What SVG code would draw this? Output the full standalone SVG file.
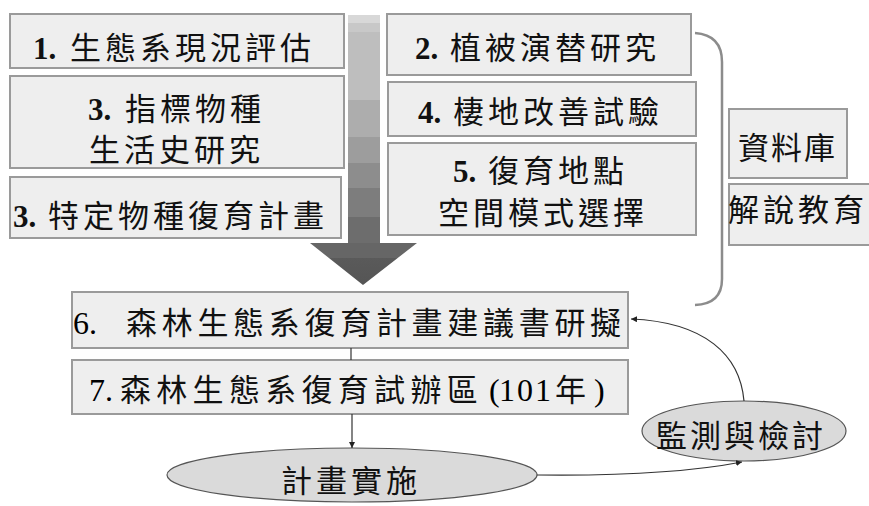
<svg xmlns="http://www.w3.org/2000/svg" width="869" height="506" viewBox="0 0 869 506">
<style>
  .box { fill: #eeeeee; stroke: #9a9a9a; stroke-width: 2; }
  .ell { fill: #dadada; stroke: #555555; stroke-width: 1.2; }
  .t { font-family: "Noto Sans CJK TC", "Noto Sans CJK SC", sans-serif; font-size: 31px; fill: #111; letter-spacing: 4px; }
  .n { font-family: "Liberation Serif", "DejaVu Serif", serif; font-weight: bold; font-size: 31px; letter-spacing: 0; }
  .nr { font-family: "Liberation Serif", "DejaVu Serif", serif; font-weight: normal; font-size: 32px; letter-spacing: 0; }
  .con { fill: none; stroke: #333; stroke-width: 1.2; }
</style>
<defs>
  <linearGradient id="arrowGrad" gradientUnits="userSpaceOnUse" x1="0" y1="15" x2="0" y2="285">
    <stop offset="0" stop-color="#d8d8d8"/>
    <stop offset="0.03" stop-color="#d8d8d8"/>
    <stop offset="0.03" stop-color="#c8c8c8"/>
    <stop offset="0.063" stop-color="#c8c8c8"/>
    <stop offset="0.063" stop-color="#bebebe"/>
    <stop offset="0.315" stop-color="#bebebe"/>
    <stop offset="0.315" stop-color="#adadad"/>
    <stop offset="0.452" stop-color="#adadad"/>
    <stop offset="0.452" stop-color="#9d9d9d"/>
    <stop offset="0.548" stop-color="#9d9d9d"/>
    <stop offset="0.548" stop-color="#8d8d8d"/>
    <stop offset="0.641" stop-color="#8d8d8d"/>
    <stop offset="0.641" stop-color="#7d7d7d"/>
    <stop offset="0.748" stop-color="#7d7d7d"/>
    <stop offset="0.748" stop-color="#6d6d6d"/>
    <stop offset="0.844" stop-color="#6d6d6d"/>
    <stop offset="0.844" stop-color="#666666"/>
    <stop offset="0.9" stop-color="#666666"/>
    <stop offset="0.9" stop-color="#5a5a5a"/>
    <stop offset="1" stop-color="#555555"/>
  </linearGradient>
  <marker id="ah" viewBox="0 0 10 10" refX="10" refY="5" markerWidth="6" markerHeight="6" markerUnits="userSpaceOnUse" orient="auto">
    <path d="M0,0 L10,5 L0,10 z" fill="#222"/>
  </marker>
</defs>

<g id="big-arrow">
  <path d="M348,15 H380 V243 H417 L363,285 L310,243 H348 Z" fill="url(#arrowGrad)"/>
</g>

<g id="node1">
  <rect class="box" x="10" y="14" width="334" height="54"/>
  <text class="t" y="59"><tspan class="n" x="33">1.</tspan><tspan x="70">生態系現況評估</tspan></text>
</g>
<g id="node3a">
  <rect class="box" x="10" y="76" width="334" height="92"/>
  <text class="t" y="119.5"><tspan class="n" x="88">3.</tspan><tspan x="125">指標物種</tspan><tspan x="89" y="161">生活史研究</tspan></text>
</g>
<g id="node3b">
  <rect class="box" x="10" y="177" width="331" height="61"/>
  <text class="t" y="227"><tspan class="n" x="13">3.</tspan><tspan x="48">特定物種復育計畫</tspan></text>
</g>
<g id="node2">
  <rect class="box" x="387" y="14" width="304" height="61"/>
  <text class="t" y="59"><tspan class="n" x="415">2.</tspan><tspan x="450">植被演替研究</tspan></text>
</g>
<g id="node4">
  <rect class="box" x="388" y="82" width="308" height="54"/>
  <text class="t" y="123"><tspan class="n" x="418">4.</tspan><tspan x="453">棲地改善試驗</tspan></text>
</g>
<g id="node5">
  <rect class="box" x="388" y="143" width="308" height="92"/>
  <text class="t" y="182"><tspan class="n" x="453">5.</tspan><tspan x="488">復育地點</tspan><tspan x="438" y="224">空間模式選擇</tspan></text>
</g>
<g id="bracket">
  <path d="M695,33 Q722,35 722,62 L722,279 Q722,304 695,305" fill="none" stroke="#8c8c8c" stroke-width="2.5"/>
</g>
<g id="node-db">
  <rect class="box" x="729" y="109" width="118" height="69"/>
  <text class="t" x="738" y="159" style="letter-spacing:2px">資料庫</text>
</g>
<g id="node-edu">
  <rect class="box" x="729" y="184" width="150" height="61"/>
  <text class="t" x="728" y="221" style="letter-spacing:4px">解說教育</text>
</g>
<g id="node6">
  <rect class="box" x="72" y="292" width="556" height="56"/>
  <text class="nr" x="73" y="334">6.</text>
  <text class="t" x="126" y="334" style="letter-spacing:4.7px">森林生態系復育計畫建議書研擬</text>
</g>
<g id="node7">
  <rect class="box" x="72" y="360" width="556" height="54"/>
  <text class="nr" x="89" y="401">7.</text>
  <text class="t" x="120" y="401" style="letter-spacing:5.3px">森林生態系復育試辦區</text>
  <text class="nr" x="489" y="401">(</text>
  <text class="nr" x="499" y="401" style="letter-spacing:2px">101</text>
  <text class="t" x="555" y="401" style="letter-spacing:0">年</text>
  <text class="nr" x="594" y="401">)</text>
</g>
<g id="node-impl">
  <ellipse class="ell" cx="352" cy="475" rx="185" ry="27"/>
  <text class="t" x="281" y="492">計畫實施</text>
</g>
<g id="node-monitor">
  <ellipse class="ell" cx="744" cy="431" rx="102" ry="30"/>
  <text class="t" x="656" y="447" style="letter-spacing:3px">監測與檢討</text>
</g>

<g id="connectors">
  <line class="con" x1="351" y1="348" x2="351" y2="360" stroke="#888"/>
  <line class="con" x1="352" y1="414" x2="352" y2="448" marker-end="url(#ah)"/>
  <path class="con" d="M537,475 C620,476 690,472 742,462" marker-end="url(#ah)"/>
  <path class="con" d="M744,401 C740,355 705,322 631,319" marker-end="url(#ah)"/>
</g>
</svg>
